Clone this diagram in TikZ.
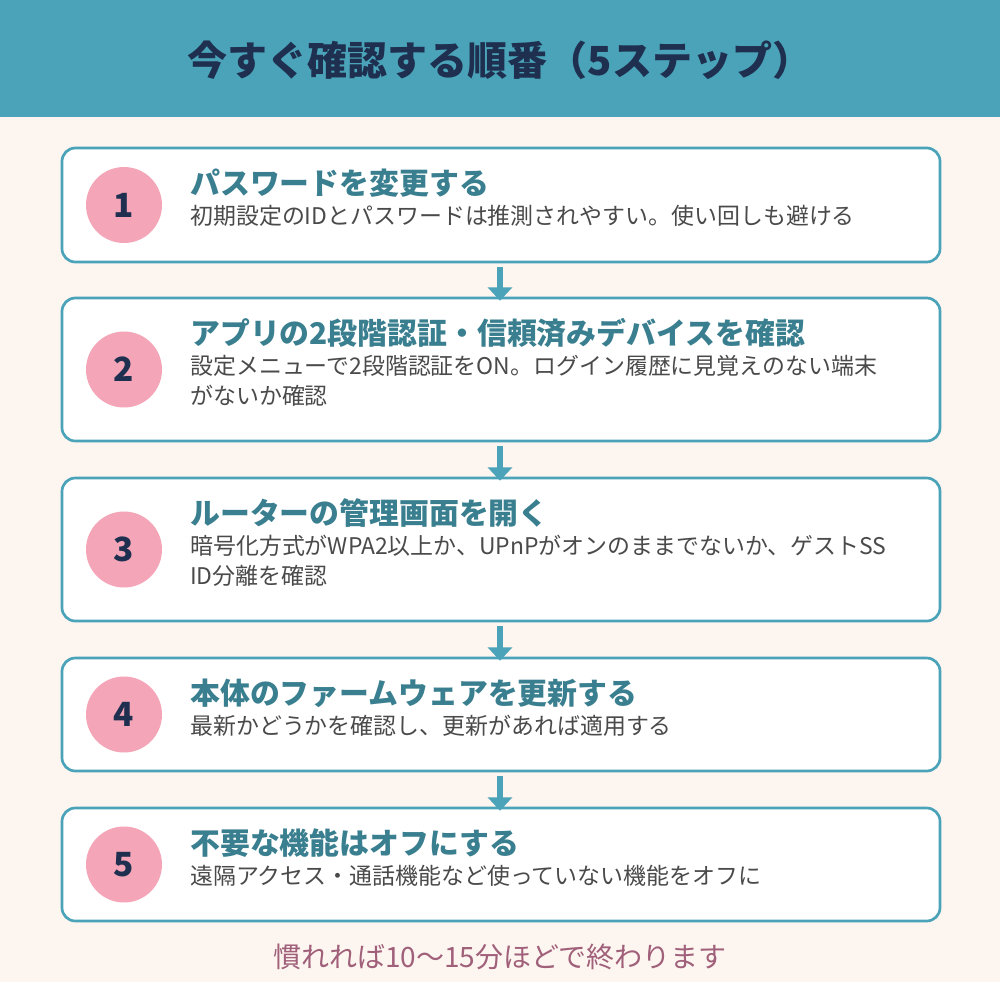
\documentclass[tikz,border=0pt]{standalone}
\usepackage{fontspec}
\setmainfont{Noto Sans CJK JP}
\usetikzlibrary{positioning,arrows.meta}
\definecolor{teal}{HTML}{4AA3B8}
\definecolor{navy}{HTML}{1E2F4F}
\definecolor{steptitle}{HTML}{3A7F8F}
\definecolor{bodytext}{HTML}{4A4A4A}
\definecolor{cream}{HTML}{FDF5F0}
\definecolor{pinkc}{HTML}{F4A6B8}
\definecolor{mauve}{HTML}{A0607A}
\tikzset{
  stepbox/.style={draw=teal,line width=2pt,fill=white,rounded corners=10pt},
  numdot/.style={circle,fill=pinkc,minimum size=57pt,inner sep=0pt,text=navy,font=\fontsize{25}{25}\selectfont\bfseries},
  steptitle/.style={anchor=west,inner sep=0pt,text=steptitle,font=\fontsize{22.4}{26}\selectfont\bfseries},
  stepbody/.style={anchor=west,inner sep=0pt,align=left,text=bodytext,font=\fontsize{17.2}{22.5}\selectfont},
  flow/.style={draw=teal,line width=5pt,-{Triangle[width=18pt,length=10pt]},shorten >=-2pt}
}
\begin{document}
\begin{tikzpicture}[x=0.75pt,y=-0.75pt]
\useasboundingbox (0,0) rectangle (1000,982);
\fill[cream] (0,0) rectangle (1000,982);
\fill[teal] (0,0) rectangle (1000,117);
\node[text=navy,font=\fontsize{30}{34}\selectfont\bfseries] (head) at (500,60) {今すぐ確認する順番（5ステップ）};
% steps: number / top / bottom / title / body
\foreach \n/\t/\b/\ti/\bo in {
  1/148/262/パスワードを変更する/初期設定のIDとパスワードは推測されやすい。使い回しも避ける,
  2/298/441/アプリの2段階認証・信頼済みデバイスを確認/設定メニューで2段階認証をON。ログイン履歴に見覚えのない端末\\がないか確認,
  3/478/621/ルーターの管理画面を開く/暗号化方式がWPA2以上か、UPnPがオンのままでないか、ゲストSS\\ID分離を確認,
  4/658/771/本体のファームウェアを更新する/最新かどうかを確認し、更新があれば適用する,
  5/808/921/不要な機能はオフにする/遠隔アクセス・通話機能など使っていない機能をオフに}{
  \draw[stepbox] (62,\t) rectangle (940,\b);
  \coordinate (top\n) at (500,\t);
  \coordinate (bot\n) at (500,\b);
  \node[numdot] (num\n) at (124,{(\t+\b)/2}) {\n};
  \node[steptitle] (title\n) at (190,{\t+35}) {\ti};
  \node[stepbody,anchor=north west] (body\n) at (190,{\t+57}) {\bo};
}
\foreach \a/\z in {1/2,2/3,3/4,4/5}
  \draw[flow] ([yshift=-4pt]bot\a) -- (top\z);
\node[text=mauve,font=\fontsize{21}{24}\selectfont] (foot) at (500,957) {慣れれば10〜15分ほどで終わります};
\end{tikzpicture}
\end{document}
